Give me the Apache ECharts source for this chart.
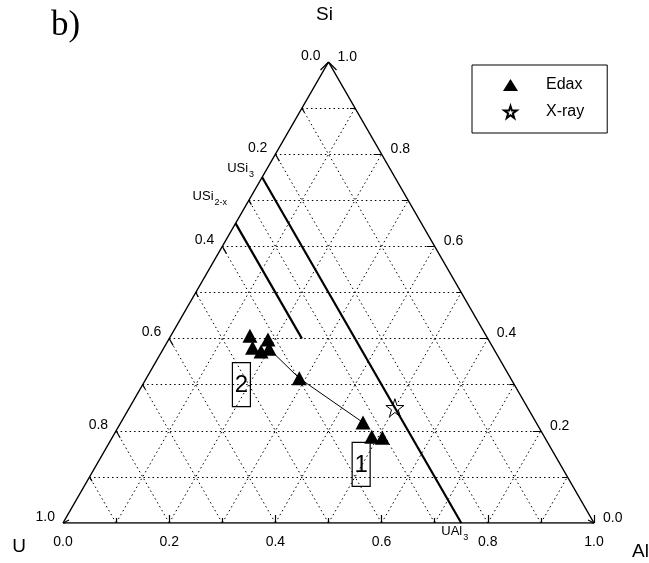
<!DOCTYPE html>
<html>
<head>
<meta charset="utf-8">
<script src="https://cdn.jsdelivr.net/npm/echarts@6/dist/echarts.min.js"></script>
<style>
  html, body { margin: 0; padding: 0; background: #fff; }
  #chart { width: 649px; height: 563px; }
</style>
</head>
<body>
<div id="chart"></div>
<script>
// compositions as fractions U / Al / Si
const edaxU  = [0.445, 0.415, 0.453, 0.441, 0.423, 0.398, 0.326, 0.325, 0.306]
const edaxAl = [0.149, 0.187, 0.167, 0.187, 0.199, 0.288, 0.456, 0.488, 0.509]
const edaxSi = [0.406, 0.398, 0.380, 0.372, 0.378, 0.314, 0.218, 0.187, 0.185]
const xrayU  = [0.25]
const xrayAl = [0.50]
const xraySi = [0.25]
// thin line joining Edax points (index into the arrays above)
const tiePath = [4, 5, 6]
// phase lines: USi3 ... UAl3 and USi2-x
const usi3U  = [0.25, 0.25]
const usi3Al = [0.00, 0.75]
const usi3Si = [0.75, 0.00]
const usi2U  = [0.35, 0.35]
const usi2Al = [0.00, 0.25]
const usi2Si = [0.65, 0.40]
// grid + ticks
const gridSteps = [0.1, 0.2, 0.3, 0.4, 0.5, 0.6, 0.7, 0.8, 0.9]
const tickLabels = ['0.0', '0.2', '0.4', '0.6', '0.8', '1.0']

// plot frame in pixels
const W = 531
const H = 461

// ternary -> cartesian (x along base, y = Si)
function xy (u, al, si) {
  return [al + si / 2, si]
}
// pixel offsets -> data offsets
function dpx (dx, dy) {
  return [dx / W, -dy / H]
}
function seg (p, dx, dy) {
  let d = dpx(dx, dy)
  return { coords: [p, [p[0] + d[0], p[1] + d[1]]] }
}

// dotted grid
let gridLines = []
gridSteps.forEach(function (v) {
  gridLines.push({ coords: [xy(1 - v, 0, v), xy(0, 1 - v, v)] })   // const Si
  gridLines.push({ coords: [xy(1 - v, v, 0), xy(0, v, 1 - v)] })   // const Al
  gridLines.push({ coords: [xy(v, 1 - v, 0), xy(v, 0, 1 - v)] })   // const U
})

// ticks
let ticks = []
gridSteps.forEach(function (v, i) {
  let len = (i % 2 === 1) ? 8 : 5
  ticks.push(seg(xy(1 - v, v, 0), 0, -len))                     // bottom (Al)
  ticks.push(seg(xy(v, 0, 1 - v), len * 0.5, len * 0.866))      // left (U)
  ticks.push(seg(xy(0, 1 - v, v), -len, 0))                     // right (Si)
})
ticks.push(seg(xy(0, 1, 0), 0, -8))
// arrow heads at the corners
ticks.push(seg(xy(0, 0, 1), -8, 8))
ticks.push(seg(xy(0, 0, 1), 8, 8))
ticks.push(seg(xy(0, 1, 0), -6, -3))
ticks.push(seg(xy(0, 1, 0), -6, 3))
ticks.push(seg(xy(1, 0, 0), 6, -3))
ticks.push(seg(xy(1, 0, 0), 6, 3))

const starPath = 'path://M50,2 L61,37 L98,37 L68,59 L79,95 L50,73 L21,95 L32,59 L2,37 L39,37 Z'

let edaxData = edaxU.map(function (u, i) { return xy(u, edaxAl[i], edaxSi[i]) })
let xrayData = xrayU.map(function (u, i) { return xy(u, xrayAl[i], xraySi[i]) })
let tieData = tiePath.map(function (i) { return edaxData[i] })

const font = '"Liberation Sans", Arial, sans-serif'

let chart = echarts.init(document.getElementById('chart'))
chart.setOption({
  animation: false,
  backgroundColor: '#fff',
  grid: { left: 63, top: 62, width: W, height: H },
  xAxis: { type: 'value', min: 0, max: 1, show: false },
  yAxis: { type: 'value', min: 0, max: 1, show: false },
  legend: {
    left: 472,
    top: 65,
    orient: 'vertical',
    borderColor: '#000',
    borderWidth: 1,
    padding: [11, 23, 12, 31],
    itemGap: 9,
    itemWidth: 15,
    itemHeight: 12,
    textStyle: { fontSize: 16, fontFamily: font, color: '#000', lineHeight: 18, padding: [0, 0, 0, 23] },
    data: ['Edax', 'X-ray']
  },
  series: [
    {
      type: 'lines',
      coordinateSystem: 'cartesian2d',
      silent: true,
      lineStyle: { color: '#000', width: 1, type: [1.5, 3], opacity: 1 },
      data: gridLines
    },
    {
      type: 'lines',
      coordinateSystem: 'cartesian2d',
      silent: true,
      lineStyle: { color: '#000', width: 1.2, opacity: 1 },
      data: ticks
    },
    {
      type: 'line',
      silent: true,
      symbol: 'none',
      lineStyle: { color: '#000', width: 1.5 },
      data: [xy(1, 0, 0), xy(0, 1, 0), xy(0, 0, 1), xy(1, 0, 0)]
    },
    {
      type: 'line',
      silent: true,
      symbol: 'none',
      lineStyle: { color: '#000', width: 2.2 },
      data: usi3U.map(function (u, i) { return xy(u, usi3Al[i], usi3Si[i]) })
    },
    {
      type: 'line',
      silent: true,
      symbol: 'none',
      lineStyle: { color: '#000', width: 2.2 },
      data: usi2U.map(function (u, i) { return xy(u, usi2Al[i], usi2Si[i]) })
    },
    {
      type: 'line',
      silent: true,
      symbol: 'none',
      lineStyle: { color: '#000', width: 1 },
      data: tieData
    },
    {
      name: 'Edax',
      type: 'scatter',
      symbol: 'triangle',
      symbolSize: [15, 14],
      itemStyle: { color: '#000', opacity: 1 },
      data: edaxData
    },
    {
      name: 'X-ray',
      type: 'scatter',
      symbol: starPath,
      symbolSize: 18,
      itemStyle: { color: '#fff', borderColor: '#000', borderWidth: 1, opacity: 1 },
      data: xrayData
    }
  ]
})

// texts placed through the same scales
function px (u, al, si) {
  return chart.convertToPixel({ gridIndex: 0 }, xy(u, al, si))
}
function txt (p, dx, dy, text, size, align, fam) {
  return {
    type: 'text',
    x: p[0] + dx,
    y: p[1] + dy,
    silent: true,
    style: {
      text: text,
      fontSize: size,
      fontFamily: fam || font,
      fill: '#000',
      align: align,
      textAlign: align,
      verticalAlign: 'middle',
      textVerticalAlign: 'middle'
    }
  }
}

let g = []
tickLabels.forEach(function (s) {
  let v = parseFloat(s)
  g.push(txt(px(v, 0, 1 - v), -8, -6, s, 14, 'right'))       // left, U
  g.push(txt(px(0, 1 - v, v), 9, -5, s, 14, 'left'))         // right, Si
  g.push(txt(px(1 - v, v, 0), 0, 19, s, 14, 'center'))       // bottom, Al
})
g.push(txt(px(0, 0, 1), -4, -47, 'Si', 19, 'center'))
g.push(txt(px(1, 0, 0), -44, 24, 'U', 19, 'center'))
g.push(txt(px(0, 1, 0), 38, 29, 'Al', 19, 'left'))
g.push(txt([51, 26], 0, 0, 'b)', 35, 'left', '"Liberation Serif", "Times New Roman", serif'))

function sub (p, dx, dy, main, low) {
  return {
    type: 'text',
    x: p[0] + dx,
    y: p[1] + dy,
    silent: true,
    style: {
      text: '{a|' + main + '}{b|' + low + '}',
      align: 'left',
      textAlign: 'left',
      verticalAlign: 'middle',
      textVerticalAlign: 'middle',
      rich: {
        a: { fontSize: 13, fontFamily: font, fill: '#000', color: '#000', lineHeight: 14, padding: [0, 0, 4, 0], verticalAlign: 'bottom' },
        b: { fontSize: 9, fontFamily: font, fill: '#000', color: '#000', lineHeight: 9, padding: [0, 0, 0, 1], verticalAlign: 'bottom' }
      }
    }
  }
}
g.push(sub(px(0.25, 0, 0.75), -35, -5, 'USi', '3'))
g.push(sub(px(0.35, 0, 0.65), -43, -23, 'USi', '2-x'))
g.push(sub(px(0.25, 0.75, 0), -20, 12, 'UAl', '3'))

// boxed labels 1 and 2
function boxed (p, text) {
  return {
    type: 'group',
    x: p[0],
    y: p[1],
    silent: true,
    children: [
      { type: 'rect', shape: { x: -9, y: -22, width: 18, height: 44 }, style: { fill: '#fff', stroke: '#000', lineWidth: 1.2 } },
      { type: 'text', x: 0, y: 1, style: { text: text, fontSize: 24, fontFamily: font, fill: '#000', align: 'center', textAlign: 'center', verticalAlign: 'middle', textVerticalAlign: 'middle' } }
    ]
  }
}
g.push(boxed(px(0.514, 0.186, 0.300), '2'))
g.push(boxed(px(0.375, 0.498, 0.127), '1'))

chart.setOption({ graphic: g })
</script>
</body>
</html>
